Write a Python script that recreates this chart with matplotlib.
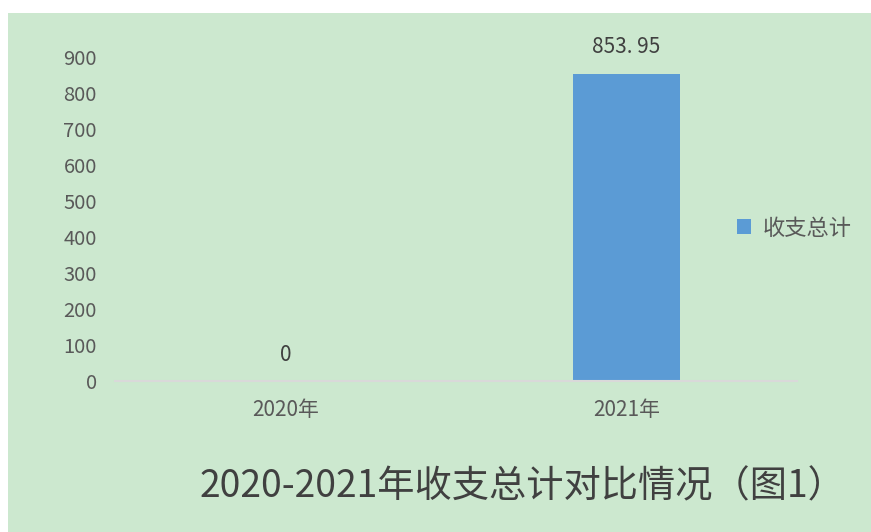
import matplotlib.pyplot as plt
from matplotlib.patches import Rectangle

plt.rcParams['font.family'] = ['Noto Sans CJK SC', 'DejaVu Sans']

# 数据
categories = ['2020年', '2021年']
values = [0, 853.95]
value_labels = ['0', '853. 95']
series_name = '收支总计'
title = '2020-2021年收支总计对比情况（图1）'

green = '#cce8cf'
blue = '#5b9bd5'
grey = '#595959'

fig = plt.figure(figsize=(8.71, 5.32), dpi=100, facecolor='white')
# 绿色背景
fig.patches.append(Rectangle((8 / 871, 0), 1, 1 - 13 / 532, transform=fig.transFigure,
                             facecolor=green, edgecolor='none', zorder=-10))

ax = fig.add_axes([115 / 871, 1 - 381 / 532, 682 / 871, 324 / 532])
ax.set_facecolor('none')
x = range(len(categories))
bars = ax.bar(x, values, width=0.314, color=blue, label=series_name, zorder=2)
ax.set_xlim(-0.5, 1.5)
ax.set_ylim(0, 900)
ax.set_yticks(range(0, 901, 100))
ax.set_xticks(list(x))
ax.set_xticklabels(categories)

for s in ['top', 'right', 'left']:
    ax.spines[s].set_visible(False)
ax.spines['bottom'].set_color('#d9d9d9')
ax.spines['bottom'].set_linewidth(1.5)
ax.tick_params(axis='both', length=0, colors=grey)
ax.tick_params(axis='y', labelsize=14.5, pad=13)
ax.tick_params(axis='x', labelsize=15, pad=13)

for xi, v, lab in zip(x, values, value_labels):
    ax.annotate(lab, (xi, v), xytext=(0, 11), textcoords='offset points',
                ha='center', va='bottom', fontsize=15, color='#404040', clip_on=False)

ax.legend(loc='center left', bbox_to_anchor=(0.912, 0.472), frameon=False,
          borderaxespad=0, borderpad=0,
          fontsize=16, handlelength=0.65, handleheight=0.65, handletextpad=0.5,
          labelcolor=grey)

fig.text(522 / 871, 1 - 487 / 532, title, ha='center', va='center',
         fontsize=26.8, color='#404040')

fig.savefig('out.png', dpi=100, facecolor=fig.get_facecolor())
